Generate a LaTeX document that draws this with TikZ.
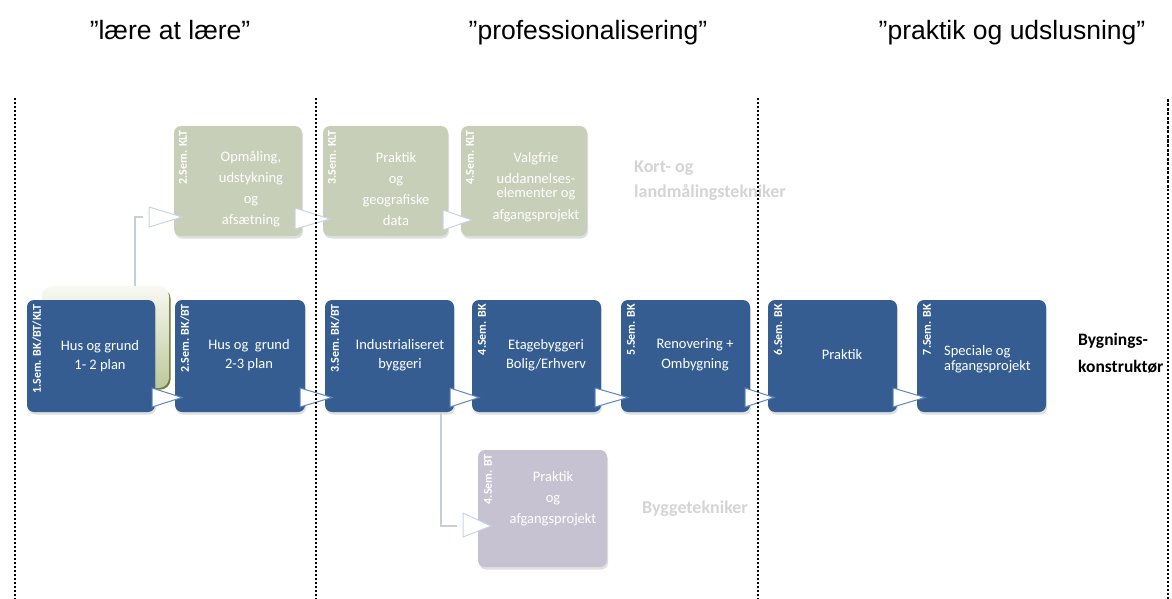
\documentclass[tikz,border=0pt]{standalone}
\usepackage{fontspec}
\setmainfont{Carlito}
\newfontfamily\arialfont{Liberation Sans}
\usetikzlibrary{shadows,calc}
\definecolor{boxblue}{HTML}{355D92}
\definecolor{boxgreen}{HTML}{C8CFB8}
\definecolor{boxpurple}{HTML}{C6C2D1}
\definecolor{arrowedge}{HTML}{5D86C3}
\definecolor{fadeedge}{HTML}{C9D3E6}
\definecolor{connline}{HTML}{C9CDD6}
\definecolor{fadetext}{HTML}{D4D4D4}
\definecolor{shadetop}{HTML}{F8F9F3}
\definecolor{shadebot}{HTML}{BCC89A}
\definecolor{shadeedge}{HTML}{6B7D2E}
\begin{document}
\begin{tikzpicture}[x=1pt,y=-1pt,
  sembox/.style={rounded corners=7pt, inner sep=0pt, outer sep=0pt, anchor=north west,
    drop shadow={shadow xshift=1pt, shadow yshift=-2.5pt, opacity=0.25}},
  bluebox/.style={sembox, fill=boxblue, minimum width=129pt, minimum height=112pt},
  greenbox/.style={sembox, fill=boxgreen, minimum width=128pt, minimum height=110pt},
  purplebox/.style={sembox, fill=boxpurple, minimum width=129pt, minimum height=117pt},
  semlabel/.style={rotate=90, anchor=east, text=white, inner sep=0pt,
    font=\bfseries\fontsize{12}{13}\selectfont},
  boxtext/.style={text=white, align=center, inner sep=0pt,
    font=\fontsize{14.5}{19.5}\selectfont},
  fadetextstyle/.style={text=white, align=center, inner sep=0pt,
    font=\fontsize{14.5}{21}\selectfont},
  tri/.style={fill=white, draw=arrowedge, line width=1pt, line join=miter},
  fadetri/.style={fill=white, draw=fadeedge, line width=1pt, line join=miter},
  conn/.style={draw=connline, line width=1.5pt},
  sidetext/.style={anchor=west, align=left, inner sep=0pt,
    font=\bfseries\fontsize{18}{25}\selectfont},
  toptext/.style={inner sep=0pt, anchor=base, font=\arialfont\fontsize{26.5}{30}\selectfont},
  dotline/.style={line width=2.4pt, dash pattern=on 2.4pt off 1.6pt},
  thindash/.style={line width=1.2pt, dash pattern=on 3pt off 1.5pt}
]
\useasboundingbox (0,0) rectangle (1172,599);

% top phase labels
\node[toptext] (t1) at (170,40) {”lære at lære”};
\node[toptext] (t2) at (588,40) {”professionalisering”};
\node[toptext] (t3) at (1012,40) {”praktik og udslusning”};

% green gradient shape behind first box
\path[fill=shadeedge, rounded corners=10pt] (43.5,288.5) rectangle (170.5,389.5);
\node[rounded corners=10pt, inner sep=0pt, outer sep=0pt, anchor=north west,
  minimum width=127pt, minimum height=102pt, top color=shadetop, bottom color=shadebot]
  (gs) at (42,286) {};

% connector anchor points
\coordinate (c1) at (135,286);
\coordinate (c2) at (441,412);

% KLT boxes
\node[greenbox] (g2) at (174,126) {};
\node[greenbox, minimum width=125pt] (g3) at (323,126) {};
\node[greenbox, minimum width=126pt] (g4) at (461,126) {};
% BT box
\node[purplebox] (p1) at (478,450) {};
% BK boxes
\node[bluebox, minimum width=128pt] (b1) at (27,300) {};
\node[bluebox, minimum width=130pt] (b2) at (175,300) {};
\node[bluebox] (b3) at (325,300) {};
\node[bluebox] (b4) at (472,300) {};
\node[bluebox] (b5) at (621,300) {};
\node[bluebox] (b6) at (768,300) {};
\node[bluebox] (b7) at (917,300) {};

% connector lines
\draw[conn] (c1) |- ($(g2.north west)+(-31,91)$);
\draw[conn] (c2) |- ($(p1.north west)+(-21,76)$);

% semester labels
\node[semlabel] (l1) at ($(b1.north west)+(10,4)$) {1.Sem. BK/BT/KLT};
\node[semlabel] (l2) at ($(b2.north west)+(10,4)$) {2.Sem. BK/BT};
\node[semlabel] (l3) at ($(b3.north west)+(10,4)$) {3.Sem. BK/BT};
\node[semlabel] (l4) at ($(b4.north west)+(10,4)$) {4.Sem. BK};
\node[semlabel] (l5) at ($(b5.north west)+(10,4)$) {5.Sem. BK};
\node[semlabel] (l6) at ($(b6.north west)+(10,4)$) {6.Sem. BK};
\node[semlabel] (l7) at ($(b7.north west)+(10,4)$) {7.Sem. BK};
\node[semlabel] (k2) at ($(g2.north west)+(9,4)$) {2.Sem. KLT};
\node[semlabel] (k3) at ($(g3.north west)+(9,4)$) {3.Sem. KLT};
\node[semlabel] (k4) at ($(g4.north west)+(9,4)$) {4.Sem. KLT};
\node[semlabel] (q1) at ($(p1.north west)+(10,4)$) {4.Sem. BT};

% box texts
\node[boxtext] (x1) at (100,356) {Hus og grund\\1- 2 plan};
\node[boxtext] (x2) at (249,355) {Hus og\ \ grund\\2-3 plan};
\node[boxtext] (x3) at (400,355) {Industrialiseret\\byggeri};
\node[boxtext] (x4) at (546,355) {Etagebyggeri\\Bolig/Erhverv};
\node[boxtext] (x5) at (695,355) {Renovering +\\Ombygning};
\node[boxtext] (x6) at (842,355) {Praktik};
\node[boxtext, anchor=west, align=left, font=\fontsize{14.5}{15}\selectfont] (x7) at (944,359) {Speciale og\\afgangsprojekt};
\node[fadetextstyle] (y2) at (251,189) {Opmåling,\\udstykning\\og\\afsætning};
\node[fadetextstyle] (y3) at (396,189) {Praktik\\og\\geografiske\\data};
\node[fadetextstyle] (y4) at (536,187) {Valgfrie\\uddannelses-\\[-7pt]elementer og\\[1pt]afgangsprojekt};
\node[fadetextstyle] (z1) at (553,499) {Praktik\\og\\afgangsprojekt};

% arrow triangles, BK row
\draw[tri] ($(b1.south east)+(-3,-24)$) -- ($(b2.south west)+(7,-14.5)$) -- ($(b1.south east)+(-3,-5)$) -- cycle;
\draw[tri] ($(b2.south east)+(-5,-24)$) -- ($(b3.south west)+(7,-14.5)$) -- ($(b2.south east)+(-5,-5)$) -- cycle;
\draw[tri] ($(b3.south east)+(-4,-24)$) -- ($(b4.south west)+(7,-14.5)$) -- ($(b3.south east)+(-4,-5)$) -- cycle;
\draw[tri] ($(b4.south east)+(-6,-24)$) -- ($(b5.south west)+(7,-14.5)$) -- ($(b4.south east)+(-6,-5)$) -- cycle;
\draw[tri] ($(b5.south east)+(-5,-24)$) -- ($(b6.south west)+(6,-14.5)$) -- ($(b5.south east)+(-5,-5)$) -- cycle;
\draw[tri] ($(b6.south east)+(-4,-24)$) -- ($(b7.south west)+(8,-14.5)$) -- ($(b6.south east)+(-4,-5)$) -- cycle;

% arrow triangles, KLT row and BT
\draw[fadetri] ($(g2.north west)+(-25,81)$) -- ($(g2.north west)+(8,91)$) -- ($(g2.north west)+(-25,101)$) -- cycle;
\draw[fadetri] ($(g2.north east)+(-7,82)$) -- ($(g3.north west)+(7,93)$) -- ($(g2.north east)+(-7,103)$) -- cycle;
\draw[fadetri] ($(g3.north east)+(-5,84)$) -- ($(g4.north west)+(11,94)$) -- ($(g3.north east)+(-5,104)$) -- cycle;
\draw[fadetri] ($(p1.north west)+(-15,63)$) -- ($(p1.north west)+(13,76)$) -- ($(p1.north west)+(-15,87)$) -- cycle;

% side texts
\node[sidetext, text=fadetext] (s1) at (634,181) {Kort- og\\landmålingstekniker};
\node[sidetext, text=fadetext] (s2) at (642,509) {Byggetekniker};
\node[sidetext, font=\bfseries\fontsize{17.5}{27}\selectfont] (s3) at (1078,353) {Bygnings-\\konstruktør};

% phase separators
\coordinate (d1a) at (15,98);   \coordinate (d1b) at (15,599);
\coordinate (d2a) at (316,98);  \coordinate (d2b) at (316,599);
\coordinate (d3a) at (758,98);  \coordinate (d3b) at (758,599);
\coordinate (d4a) at (1168,99); \coordinate (d4m) at (1168,189); \coordinate (d4b) at (1168,599);
\draw[dotline] (d1a) -- (d1b);
\draw[dotline] (d2a) -- (d2b);
\draw[dotline] (d3a) -- (d3b);
\draw[thindash] (d4a) -- (d4m);
\draw[dotline] (d4m) -- (d4b);
\end{tikzpicture}
\end{document}
